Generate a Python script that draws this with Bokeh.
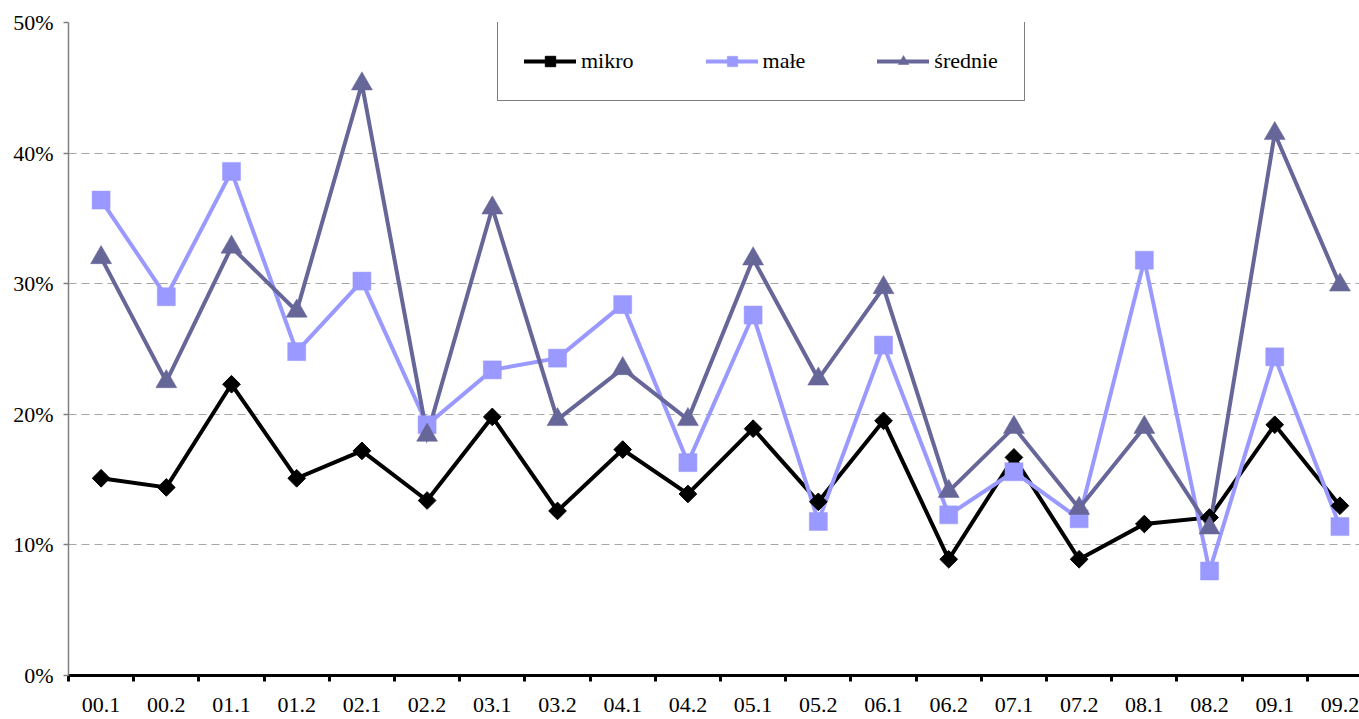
from bokeh.plotting import figure
from bokeh.models import Range1d, FixedTicker, LinearAxis, Legend, LegendItem, Grid
from bokeh.embed import file_html
from bokeh.resources import INLINE
import math

categories = ["00.1", "00.2", "01.1", "01.2", "02.1", "02.2", "03.1", "03.2", "04.1", "04.2",
              "05.1", "05.2", "06.1", "06.2", "07.1", "07.2", "08.1", "08.2", "09.1", "09.2"]
mikro = [15.1, 14.4, 22.3, 15.1, 17.2, 13.4, 19.8, 12.6, 17.3, 13.9,
         18.9, 13.3, 19.5, 8.9, 16.7, 8.9, 11.6, 12.1, 19.2, 13.0]
male = [36.4, 29.0, 38.6, 24.8, 30.2, 19.2, 23.4, 24.3, 28.4, 16.3,
        27.6, 11.8, 25.3, 12.3, 15.6, 12.0, 31.8, 8.0, 24.4, 11.4]
srednie = [32.0, 22.5, 32.8, 27.9, 45.3, 18.4, 35.8, 19.6, 23.5, 19.6,
           31.9, 22.7, 29.7, 14.1, 19.0, 12.8, 19.0, 11.3, 41.5, 29.9]
series_names = ["mikro", "małe", "średnie"]
y_ticks = [0, 10, 20, 30, 40, 50]
y_labels = ["0%", "10%", "20%", "30%", "40%", "50%"]

FONT = "'Liberation Serif', 'Times New Roman', serif"
xs = list(range(len(categories)))

p = figure(width=1359, height=719, output_backend="svg", toolbar_location=None,
           x_range=Range1d(-0.5, 19.3), y_range=Range1d(0, 50),
           x_axis_type=None, y_axis_type=None,
           min_border_left=68, min_border_right=0, min_border_top=22, min_border_bottom=44)
p.outline_line_color = None
p.background_fill_color = "white"

# axes
yaxis = LinearAxis(ticker=FixedTicker(ticks=y_ticks),
                   major_label_overrides={t: l for t, l in zip(y_ticks, y_labels)})
yaxis.axis_line_color = "#808080"
yaxis.axis_line_width = 1.5
yaxis.major_tick_line_color = "#808080"
yaxis.major_tick_line_width = 1.5
yaxis.major_tick_out = 5
yaxis.major_tick_in = 0
yaxis.minor_tick_line_color = None
yaxis.major_label_standoff = 10
yaxis.major_label_text_font = FONT
yaxis.major_label_text_font_size = "22px"
yaxis.major_label_text_color = "black"
p.add_layout(yaxis, "left")

xaxis = LinearAxis(ticker=FixedTicker(ticks=xs, minor_ticks=[i - 0.5 for i in range(len(categories) + 1)]),
                   major_label_overrides={i: c for i, c in zip(xs, categories)})
xaxis.axis_line_color = "black"
xaxis.axis_line_width = 3
xaxis.major_tick_line_color = None
xaxis.major_tick_out = 0
xaxis.major_tick_in = 0
xaxis.minor_tick_line_color = "black"
xaxis.minor_tick_line_width = 3
xaxis.minor_tick_out = 6
xaxis.minor_tick_in = 0
xaxis.major_label_standoff = 16
xaxis.major_label_text_font = FONT
xaxis.major_label_text_font_size = "22px"
xaxis.major_label_text_color = "black"
p.add_layout(xaxis, "below")

grid = Grid(dimension=1, ticker=FixedTicker(ticks=y_ticks[1:]))
grid.grid_line_color = "#A6A6A6"
grid.grid_line_dash = "8 5"
grid.grid_line_width = 1
p.add_layout(grid)

# lines first
l1 = p.line(xs, mikro, line_color="black", line_width=4, line_cap="round", line_join="miter")
l2 = p.line(xs, male, line_color="#9999FF", line_width=4, line_cap="round", line_join="miter")
l3 = p.line(xs, srednie, line_color="#666699", line_width=4, line_cap="round", line_join="miter")

# markers
s1 = p.scatter(xs, mikro, marker="square", size=12.5, angle=math.pi / 4,
               fill_color="black", line_color="black", line_width=1)
s2 = p.scatter(xs, male, marker="square", size=18, fill_color="#9999FF", line_color="#9999FF", line_width=0.5)
s3 = p.scatter(xs, srednie, marker="triangle", size=21, fill_color="#666699", line_color="#666699", line_width=0.5)

legend = Legend(items=[LegendItem(label=series_names[0], renderers=[l1, s1]),
                       LegendItem(label=series_names[1], renderers=[l2, s2]),
                       LegendItem(label=series_names[2], renderers=[l3, s3])],
                orientation="horizontal", location=(429, 574))
legend.border_line_color = "black"
legend.border_line_width = 1
legend.background_fill_color = "white"
legend.background_fill_alpha = 1
legend.label_text_font = FONT
legend.label_text_font_size = "22px"
legend.label_text_color = "black"
legend.glyph_width = 52
legend.glyph_height = 26
legend.label_height = 26
legend.label_standoff = 5
legend.spacing = 72
legend.padding = 26
legend.margin = 0
p.add_layout(legend)

open("out.html", "w").write(file_html(p, INLINE))
